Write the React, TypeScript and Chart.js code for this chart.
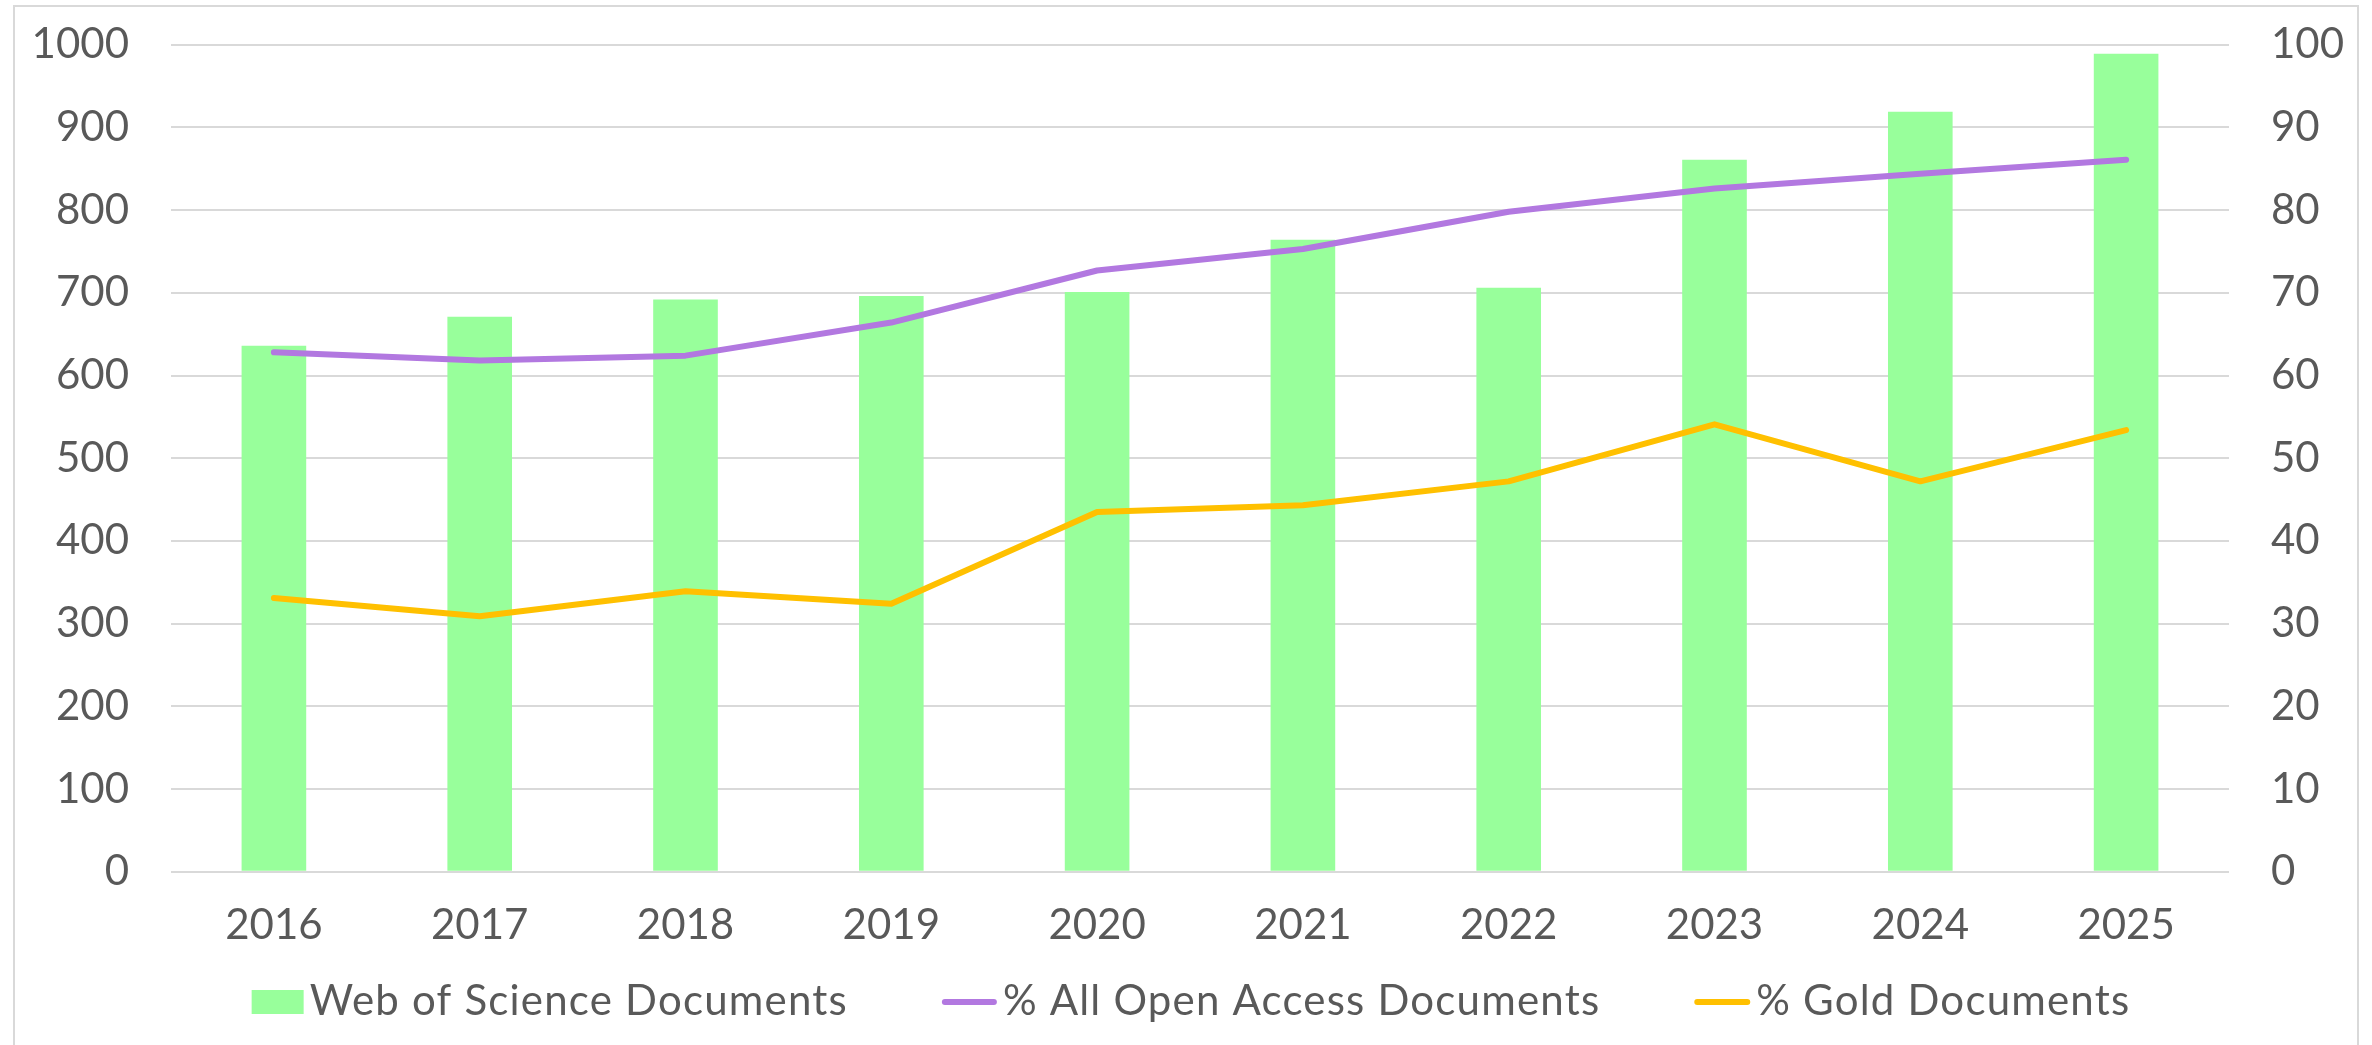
import React, { useEffect, useRef } from "react";
import { Chart, registerables } from "chart.js";

Chart.register(...registerables);

const years = ["2016", "2017", "2018", "2019", "2020", "2021", "2022", "2023", "2024", "2025"];
const wosDocuments = [636, 671, 692, 696, 701, 764, 706, 861, 919, 989];
const pctOpenAccess = [62.8, 61.8, 62.4, 66.4, 72.7, 75.3, 79.8, 82.6, 84.4, 86.1];
const pctGold = [33.1, 30.9, 33.9, 32.4, 43.5, 44.3, 47.2, 54.1, 47.2, 53.4];
const leftTicks = [0, 100, 200, 300, 400, 500, 600, 700, 800, 900, 1000];
const rightTicks = [0, 10, 20, 30, 40, 50, 60, 70, 80, 90, 100];

const seriesLabels = ["Web of Science Documents", "% All Open Access Documents", "% Gold Documents"];
const seriesColors = ["#98FF9B", "#B278E0", "#FFC000"];

const FONT = "Lato";
const TEXT = "#595959";
const GRID = "#D9D9D9";

const legendPlugin = {
  id: "bottomLegend",
  afterDraw(chart: any) {
    const ctx = chart.ctx as CanvasRenderingContext2D;
    ctx.save();
    ctx.font = `42px ${FONT}`;
    (ctx as any).letterSpacing = "1.2px";
    const markerW = [52, 55, 56];
    const gap = 6;
    const spacing = 94;
    const widths = seriesLabels.map((l, i) => markerW[i] + gap + ctx.measureText(l).width);
    const total = widths.reduce((a, b) => a + b, 0) + spacing * (widths.length - 1);
    let x = 1191 - total / 2;
    const baseline = 1015;
    const mid = 1002;
    chart.data.datasets.forEach((ds: any, i: number) => {
      if (ds.type === "bar") {
        ctx.fillStyle = ds.backgroundColor;
        ctx.fillRect(x, mid - 12, markerW[i], 24);
      } else {
        ctx.strokeStyle = ds.borderColor;
        ctx.lineWidth = 6;
        ctx.lineCap = "round";
        ctx.beginPath();
        ctx.moveTo(x + 3, mid);
        ctx.lineTo(x + markerW[i] - 3, mid);
        ctx.stroke();
      }
      ctx.fillStyle = TEXT;
      ctx.textBaseline = "alphabetic";
      ctx.textAlign = "left";
      ctx.fillText(ds.label, x + markerW[i] + gap, baseline);
      x += widths[i] + spacing;
    });
    ctx.restore();
  },
};

export default function App() {
  const ref = useRef<HTMLCanvasElement>(null);

  useEffect(() => {
    if (!ref.current) return;
    const tickFmt = (v: any) => String(v);
    const chart = new Chart(ref.current, {
      type: "bar",
      data: {
        labels: years,
        datasets: [
          {
            type: "bar",
            label: seriesLabels[0],
            data: wosDocuments,
            backgroundColor: seriesColors[0],
            yAxisID: "y",
            order: 3,
            barPercentage: 0.314,
            categoryPercentage: 1,
          },
          {
            type: "line",
            label: seriesLabels[1],
            data: pctOpenAccess,
            borderColor: seriesColors[1],
            backgroundColor: seriesColors[1],
            borderWidth: 6,
            borderCapStyle: "round",
            borderJoinStyle: "round",
            pointRadius: 0,
            tension: 0,
            yAxisID: "y1",
            order: 1,
          },
          {
            type: "line",
            label: seriesLabels[2],
            data: pctGold,
            borderColor: seriesColors[2],
            backgroundColor: seriesColors[2],
            borderWidth: 6,
            borderCapStyle: "round",
            borderJoinStyle: "round",
            pointRadius: 0,
            tension: 0,
            yAxisID: "y1",
            order: 2,
          },
        ] as any,
      },
      options: {
        responsive: false,
        animation: false,
        layout: { padding: { top: 44.7, bottom: 0, left: 0, right: 0 } },
        plugins: {
          legend: { display: false },
          tooltip: { enabled: false },
        },
        scales: {
          x: {
            grid: { display: false, drawTicks: false },
            border: { display: false },
            ticks: {
              color: TEXT,
              font: { family: FONT, size: 42 },
              padding: 29,
              maxRotation: 0,
            },
            afterFit(scale: any) {
              scale.height = 173.3;
            },
          },
          y: {
            position: "left",
            min: 0,
            max: 1000,
            afterBuildTicks(scale: any) {
              scale.ticks = leftTicks.map((v) => ({ value: v }));
            },
            grid: { color: GRID, lineWidth: 2, drawTicks: false },
            border: { display: false },
            ticks: {
              color: TEXT,
              font: { family: FONT, size: 42 },
              padding: 42,
              callback: tickFmt,
            },
            afterFit(scale: any) {
              scale.width = 171;
              scale.paddingTop = 0;
              scale.paddingBottom = 0;
            },
          },
          y1: {
            position: "right",
            min: 0,
            max: 100,
            afterBuildTicks(scale: any) {
              scale.ticks = rightTicks.map((v) => ({ value: v }));
            },
            grid: { display: false, drawTicks: false },
            border: { display: false },
            ticks: {
              color: TEXT,
              font: { family: FONT, size: 42 },
              padding: 42,
              callback: tickFmt,
            },
            afterFit(scale: any) {
              scale.width = 143;
              scale.paddingTop = 0;
              scale.paddingBottom = 0;
            },
          },
        },
      } as any,
      plugins: [legendPlugin],
    });
    return () => chart.destroy();
  }, []);

  return (
    <div style={{ position: "fixed", left: 0, top: 0, width: 2372, height: 1045, background: "#fff" }}>
      <div
        style={{
          position: "absolute",
          left: 13,
          top: 5,
          width: 2346,
          height: 1100,
          border: `2px solid ${GRID}`,
          boxSizing: "border-box",
        }}
      />
      <canvas ref={ref} width={2372} height={1045} style={{ position: "absolute", left: 0, top: 0, width: 2372, height: 1045 }} />
    </div>
  );
}
